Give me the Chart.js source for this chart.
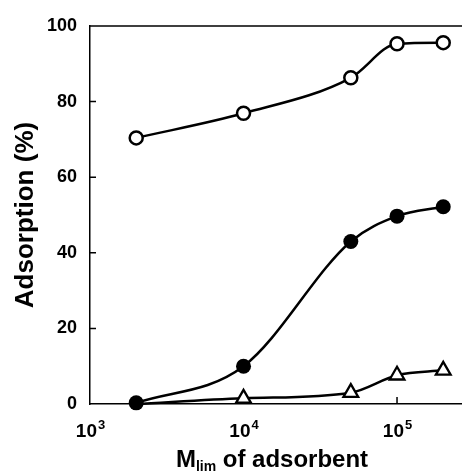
<!DOCTYPE html>
<html>
<head>
<meta charset="utf-8">
<script src="https://cdn.jsdelivr.net/npm/chart.js@4.4.0/dist/chart.umd.min.js"></script>
<style>
  body { margin: 0; background: #fff; }
</style>
</head>
<body>
<canvas id="myChart" width="462" height="472"></canvas>
<script>
const masses = [2000, 10000, 50000, 100000, 200000];
const openCircles = [70.4, 76.9, 86.3, 95.3, 95.6];
const filledCircles = [0.3, 10, 43, 49.7, 52.2];
const triangles = [0, 1.5, 3.0, 7.6, 8.9];
const yTicks = [0, 20, 40, 60, 80, 100];
const xExponents = [3, 4, 5];

const FONT = '"Liberation Sans", Arial, sans-serif';
Chart.defaults.font.family = FONT;
Chart.defaults.font.weight = 'bold';
Chart.defaults.color = '#000';

const pts = vals => masses.map((m, i) => ({ x: m, y: vals[i] }));

// top frame line, inward ticks, x tick labels with exponents, x title with subscript
const frame = {
  id: 'frame',
  beforeDatasetsDraw(chart) {
    const { ctx, chartArea: a, scales: { x, y } } = chart;
    ctx.save();
    ctx.strokeStyle = '#000';
    ctx.lineWidth = 1.5;
    ctx.beginPath();
    ctx.moveTo(a.left, a.top);
    ctx.lineTo(a.right, a.top);
    yTicks.slice(1, -1).forEach(v => {
      const py = y.getPixelForValue(v);
      ctx.moveTo(a.left, py);
      ctx.lineTo(a.left + 6, py);
    });
    xExponents.slice(1).forEach(e => {
      const px = x.getPixelForValue(10 ** e);
      ctx.moveTo(px, a.bottom);
      ctx.lineTo(px, a.bottom - 7);
    });
    ctx.stroke();

    ctx.fillStyle = '#000';
    ctx.textAlign = 'left';
    ctx.textBaseline = 'alphabetic';
    xExponents.forEach(e => {
      ctx.font = 'bold 19px ' + FONT;
      const w1 = ctx.measureText('10').width;
      ctx.font = 'bold 13px ' + FONT;
      const w2 = ctx.measureText(String(e)).width;
      const left = x.getPixelForValue(10 ** e) - (w1 + w2) / 2;
      ctx.font = 'bold 19px ' + FONT;
      ctx.fillText('10', left, 437);
      ctx.font = 'bold 13px ' + FONT;
      ctx.fillText(String(e), left + w1 + 1, 429);
    });

    // x axis title: M_lim of adsorbent
    const big = 'bold 24px ' + FONT, small = 'bold 14px ' + FONT;
    ctx.font = big;
    const wM = ctx.measureText('M').width;
    const wRest = ctx.measureText(' of adsorbent').width;
    ctx.font = small;
    const wSub = ctx.measureText('lim').width;
    let tx = (a.left + a.right) / 2 - 4 - (wM + wSub + wRest) / 2;
    ctx.font = big;
    ctx.fillText('M', tx, 467);
    tx += wM;
    ctx.font = small;
    ctx.fillText('lim', tx, 471);
    tx += wSub;
    ctx.font = big;
    ctx.fillText(' of adsorbent', tx, 467);
    ctx.restore();
  }
};

const ctx = document.querySelector('#myChart');

new Chart(ctx, {
  type: 'line',
  data: {
    datasets: [
      {
        label: 'filled',
        data: pts(filledCircles),
        borderColor: '#000',
        backgroundColor: '#000',
        borderWidth: 2.5,
        pointRadius: 7.5,
        pointBorderWidth: 0,
        cubicInterpolationMode: 'monotone',
        clip: false
      },
      {
        label: 'open',
        data: pts(openCircles),
        borderColor: '#000',
        backgroundColor: '#fff',
        borderWidth: 2.5,
        pointRadius: 6.5,
        pointBorderWidth: 2.5,
        cubicInterpolationMode: 'monotone',
        clip: false
      },
      {
        label: 'triangle',
        data: pts(triangles),
        borderColor: '#000',
        backgroundColor: '#fff',
        borderWidth: 2.5,
        pointStyle: 'triangle',
        pointRadius: [0, 8.5, 8.5, 8.5, 8.5],
        pointBorderWidth: 2.3,
        cubicInterpolationMode: 'monotone',
        clip: false
      }
    ]
  },
  options: {
    responsive: false,
    animation: false,
    layout: {
      autoPadding: false,
      padding: { top: 26, right: 0, bottom: 0, left: 0 }
    },
    plugins: {
      legend: { display: false },
      tooltip: { enabled: false }
    },
    scales: {
      x: {
        type: 'logarithmic',
        min: 1000,
        max: 265000,
        grid: { display: false },
        border: { display: true, color: '#000', width: 1.5 },
        ticks: { display: false },
        afterFit: s => { s.height = 68; }
      },
      y: {
        min: 0,
        max: 100,
        grid: { display: false, drawTicks: false },
        border: { display: true, color: '#000', width: 1.5 },
        ticks: {
          stepSize: 20,
          padding: 13,
          font: { size: 18, weight: 'bold' }
        },
        title: {
          display: true,
          text: 'Adsorption (%)',
          font: { size: 26, weight: 'bold' },
          padding: { top: 10, bottom: 0 }
        },
        afterFit: s => { s.width = 90; }
      }
    }
  },
  plugins: [frame]
});
</script>
</body>
</html>
